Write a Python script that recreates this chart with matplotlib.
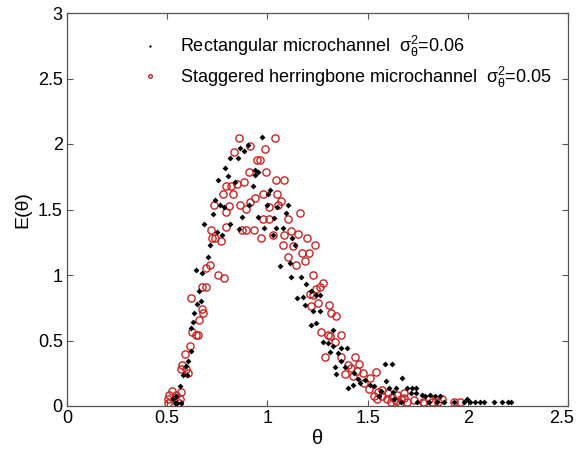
import matplotlib
matplotlib.use("Agg")
import matplotlib.pyplot as plt
import matplotlib.transforms as mtransforms
import numpy as np

plt.rcParams['font.family'] = ['Liberation Sans', 'DejaVu Sans']
plt.rcParams['mathtext.fontset'] = 'custom'
plt.rcParams['mathtext.rm'] = 'Liberation Sans'
plt.rcParams['mathtext.it'] = 'Liberation Sans:italic'

# Rectangular microchannel (black dots)
rect_x = [0.972, 0.901, 0.865, 0.885, 0.851, 0.815, 0.936, 0.955, 0.936, 0.787,
          0.752, 0.804, 0.837, 0.926, 1.013, 1.005, 0.741, 0.762, 0.782, 0.909,
          1.000, 1.050, 1.101, 0.729, 0.873, 0.955, 1.035, 1.091, 0.686, 0.749,
          0.771, 0.815, 0.860, 0.984, 1.043, 1.076, 1.030, 1.124, 1.137, 0.716,
          0.703, 1.063, 1.112, 0.642, 0.675, 1.120, 1.167,
          0.658, 0.667, 0.650, 0.634, 0.629, 0.617, 0.617, 0.605, 0.593, 0.579,
          0.601, 0.563, 0.543, 0.530, 0.551, 0.567, 0.540,
          1.195, 1.150,
          1.178, 1.219, 1.244, 1.261, 1.187, 1.228, 1.261, 1.219, 1.244, 1.327,
          1.277, 1.302, 1.327, 1.368, 1.398, 1.310, 1.354, 1.335, 1.368, 1.385,
          1.434, 1.450, 1.401, 1.426, 1.464, 1.488, 1.513, 1.533, 1.591, 1.586,
          1.624, 1.673, 1.566, 1.607, 1.640, 1.698, 1.723, 1.744, 1.741, 1.715,
          1.558, 1.629, 1.772, 1.788, 1.813, 1.838, 1.862, 1.749, 1.805, 1.846,
          1.879, 1.929, 1.979, 1.996, 2.012, 2.037, 2.060, 2.080, 2.130, 1.668,
          1.632, 2.170, 2.200, 2.215, 1.343]
rect_y = [2.054, 1.995, 1.970, 1.945, 1.894, 1.894, 1.805, 1.785, 1.767, 1.813,
          1.729, 1.754, 1.709, 1.678, 1.648, 1.615, 1.571, 1.538, 1.521, 1.538,
          1.538, 1.521, 1.538, 1.462, 1.442, 1.442, 1.432, 1.470, 1.386, 1.330,
          1.305, 1.386, 1.353, 1.356, 1.356, 1.356, 1.305, 1.280, 1.226, 1.226,
          1.140, 1.069, 1.089, 1.036, 1.013, 0.988, 0.988,
          0.878, 0.802, 0.777, 0.713, 0.642, 0.592, 0.421, 0.345, 0.307, 0.236,
          0.236, 0.155, 0.076, 0.053, 0.023, 0.023, 0.023,
          0.929, 0.823,
          0.835, 0.878, 0.850, 0.850, 0.769, 0.726, 0.726, 0.617, 0.637, 0.581,
          0.490, 0.480, 0.459, 0.439, 0.440, 0.409, 0.405, 0.295, 0.345, 0.300,
          0.250, 0.206, 0.135, 0.160, 0.175, 0.200, 0.160, 0.150, 0.193, 0.320,
          0.320, 0.210, 0.117, 0.135, 0.135, 0.135, 0.135, 0.135, 0.100, 0.100,
          0.080, 0.110, 0.084, 0.080, 0.084, 0.080, 0.080, 0.033, 0.033, 0.033,
          0.033, 0.033, 0.033, 0.050, 0.033, 0.033, 0.033, 0.033, 0.033, 0.033,
          0.050, 0.030, 0.028, 0.028, 0.244]

# Staggered herringbone microchannel (red open circles)
shb_x = [0.856, 1.038, 0.914, 0.989, 0.835, 0.947, 0.962, 0.906, 0.993, 1.043,
         1.083, 0.881, 0.848, 0.820, 0.794, 0.777, 0.828, 0.914, 0.939, 0.980,
         1.046, 1.068, 0.733, 0.807, 0.865, 0.893, 1.008, 1.054, 1.165, 0.794,
         0.977, 1.008, 1.104, 0.718, 0.795, 0.873, 0.894, 0.931, 0.967, 1.030,
         1.083, 1.120, 1.153, 0.724, 0.766, 0.738, 1.200, 1.236, 1.076, 1.129,
         1.175, 1.206, 1.104, 1.187, 1.145, 0.713, 0.695, 0.754, 0.782, 1.228,
         0.675, 0.692, 0.617, 0.672, 0.680, 0.658, 0.625, 0.642, 0.653, 0.614,
         0.589, 0.576, 0.568, 0.594, 0.605, 0.526, 0.510, 0.543, 0.502, 0.563,
         0.505, 0.557, 0.568,
         1.277, 1.261, 1.244, 1.211, 1.228, 1.252, 1.219, 1.305, 1.318, 1.343,
         1.269, 1.300, 1.314, 1.368, 1.338, 1.286, 1.368, 1.439, 1.401, 1.417,
         1.459, 1.448, 1.385, 1.426, 1.475, 1.541, 1.513, 1.483, 1.508, 1.550,
         1.533, 1.574, 1.599, 1.649, 1.665, 1.640, 1.681, 1.698, 1.731, 1.777,
         1.805, 1.822, 1.780, 1.615, 1.545, 1.929, 1.681, 1.600, 1.620, 1.570,
         1.660, 1.850, 1.870, 1.960]
shb_y = [2.046, 2.046, 1.988, 1.965, 1.937, 1.881, 1.881, 1.787, 1.787, 1.729,
         1.729, 1.711, 1.691, 1.678, 1.678, 1.622, 1.622, 1.559, 1.589, 1.622,
         1.622, 1.564, 1.533, 1.530, 1.533, 1.505, 1.521, 1.533, 1.475, 1.480,
         1.424, 1.424, 1.424, 1.340, 1.368, 1.340, 1.340, 1.340, 1.280, 1.305,
         1.305, 1.335, 1.310, 1.280, 1.259, 1.280, 1.280, 1.226, 1.226, 1.221,
         1.170, 1.170, 1.140, 1.107, 1.076, 1.076, 1.051, 0.998, 0.980, 0.998,
         0.911, 0.911, 0.823, 0.739, 0.713, 0.655, 0.566, 0.541, 0.541, 0.455,
         0.396, 0.312, 0.282, 0.282, 0.251, 0.117, 0.084, 0.084, 0.053, 0.053,
         0.023, 0.025, 0.109,
         0.942, 0.911, 0.891, 0.853, 0.850, 0.790, 0.764, 0.770, 0.713, 0.688,
         0.566, 0.545, 0.535, 0.541, 0.485, 0.371, 0.371, 0.371, 0.315, 0.287,
         0.320, 0.269, 0.244, 0.231, 0.250, 0.260, 0.211, 0.175, 0.129, 0.104,
         0.080, 0.074, 0.053, 0.084, 0.053, 0.041, 0.060, 0.033, 0.048, 0.033,
         0.050, 0.033, 0.025, 0.033, 0.050, 0.033, 0.100, 0.100, 0.070, 0.120,
         0.020, 0.030, 0.050, 0.030]

labels = [r'Rectangular microchannel  $\mathregular{\sigma_\theta^2}$=0.06',
          r'Staggered herringbone microchannel  $\mathregular{\sigma_\theta^2}$=0.05']
xticks = [0, 0.5, 1, 1.5, 2, 2.5]
xticklabels = ['0', '0.5', '1', '1.5', '2', '2.5']
yticks = [0, 0.5, 1, 1.5, 2, 2.5, 3]
yticklabels = ['0', '0.5', '1', '1.5', '2', '2.5', '3']

fig = plt.figure(figsize=(5.79, 4.53), dpi=100)
ax = fig.add_axes([67 / 579, 47 / 453, 501 / 579, 393 / 453])

red = '#cc2222'
ax.plot(rect_x, rect_y, linestyle='none', marker='D', markersize=3.0,
        color='black', markeredgewidth=0, label=labels[0], zorder=3)
ax.plot(shb_x, shb_y, linestyle='none', marker='o', markersize=5.2,
        markerfacecolor='none', markeredgecolor=red, markeredgewidth=1.0,
        label=labels[1], zorder=2)

ax.set_xlim(0, 2.5)
ax.set_ylim(0, 3)
ax.set_xticks(xticks)
ax.set_xticklabels(xticklabels)
ax.set_yticks(yticks)
ax.set_yticklabels(yticklabels)
ax.tick_params(direction='in', top=True, right=True, labelsize=13, length=4,
               width=0.8, pad=3, color='#555555')
for s in ax.spines.values():
    s.set_linewidth(0.9)
    s.set_color('#555555')
ax.set_xlabel('θ', fontsize=14.5, labelpad=1)
ax.set_ylabel('E(θ)', fontsize=14, labelpad=5)

# shift the last x tick label slightly left so it stays inside the figure
lab = ax.get_xticklabels()[-1]
lab.set_transform(lab.get_transform() +
                  mtransforms.ScaledTranslation(-6 / 100, 0, fig.dpi_scale_trans))

leg = ax.legend(loc='upper left', bbox_to_anchor=(0.134, 0.965), frameon=False,
                fontsize=13, handlelength=1.0, handletextpad=1.15,
                labelspacing=0.3, markerscale=0.5, borderaxespad=0)

fig.savefig('out.png', dpi=100)
